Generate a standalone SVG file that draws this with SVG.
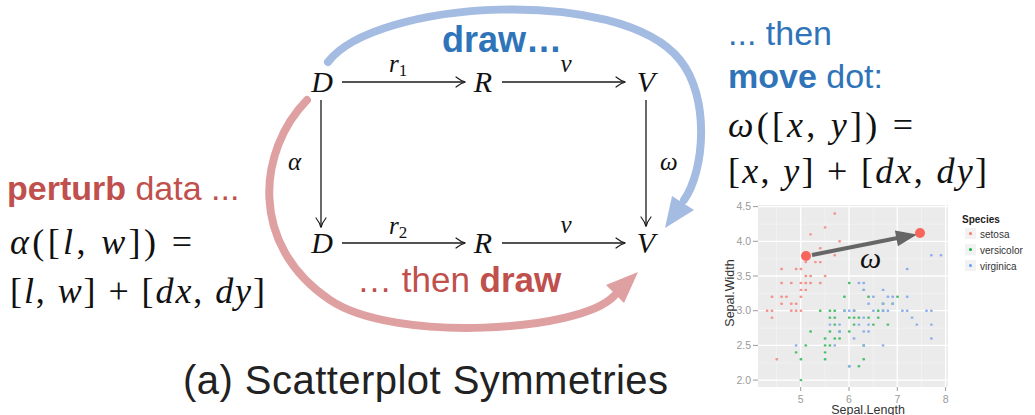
<svg xmlns="http://www.w3.org/2000/svg" width="1035" height="415" viewBox="0 0 1035 415">
<style>
.math{font-family:"Liberation Serif","Times New Roman",serif;font-style:italic;fill:#111}
.up{font-style:normal}
.sans{font-family:"Liberation Sans",Arial,sans-serif}
.red{fill:#c0504d}
.blue{fill:#2f74b9}
.b{font-weight:bold}
.node{font-size:30px}
.lab{font-size:25px}
.eq{font-size:36px}
.ann{font-size:34px}
.conn{stroke:#1a1a1a;stroke-width:1.3;fill:none}
.head{stroke:#1a1a1a;stroke-width:1.2;fill:none;stroke-linecap:round}
.tick{font-family:"Liberation Sans",Arial,sans-serif;font-size:10.5px;fill:#9a9a9a}
.pt{fill:none;stroke-width:2.4;stroke-linecap:round;vector-effect:non-scaling-stroke}
</style>

<!-- big curved arrows -->
<g id="blue-arc">
<path d="M328,62 C375,0 620,-15 680,60 C710,97 705,170 684,200" fill="none" stroke="#a4bce2" stroke-width="8" stroke-linecap="round"/>
<polygon points="665,228 672,196 694,210" fill="#a4bce2"/>
</g>
<g id="red-arc">
<path d="M307,100 C258,150 248,245 330,300 C394,343 580,332 614,296" fill="none" stroke="#dfa0a1" stroke-width="8" stroke-linecap="round"/>
<polygon points="638,272 606,285 624,303" fill="#dfa0a1"/>
</g>

<!-- connectors -->
<g id="connectors">
<path class="conn" d="M342,82 H465"/>
<path class="head" d="M456,77 Q461,81 465.5,82 Q461,83 456,87"/>
<path class="conn" d="M502,82 H625"/>
<path class="head" d="M616,77 Q621,81 625.5,82 Q621,83 616,87"/>
<path class="conn" d="M342,243 H465"/>
<path class="head" d="M456,238 Q461,242 465.5,243 Q461,244 456,248"/>
<path class="conn" d="M502,243 H625"/>
<path class="head" d="M616,238 Q621,242 625.5,243 Q621,244 616,248"/>
<path class="conn" d="M321,100 V227"/>
<path class="head" d="M316,218 Q320,223 321,227.5 Q322,223 326,218"/>
<path class="conn" d="M646,100 V226"/>
<path class="head" d="M641,217 Q645,222 646,226.5 Q647,222 651,217"/>
<text class="math lab" x="389" y="72">r<tspan class="up" font-size="17" dy="4">1</tspan></text>
<text class="math lab" x="566" y="72" text-anchor="middle">v</text>
<text class="math lab" x="389" y="234">r<tspan class="up" font-size="17" dy="4">2</tspan></text>
<text class="math lab" x="566" y="233" text-anchor="middle">v</text>
<text class="math lab" x="288" y="170">α</text>
<text class="math lab" x="660" y="170">ω</text>
</g>

<!-- nodes -->
<g id="node-D1"><text class="math node" x="322" y="92" text-anchor="middle">D</text></g>
<g id="node-R1"><text class="math node" x="483" y="92" text-anchor="middle">R</text></g>
<g id="node-V1"><text class="math node" x="646" y="92" text-anchor="middle">V</text></g>
<g id="node-D2"><text class="math node" x="322" y="253" text-anchor="middle">D</text></g>
<g id="node-R2"><text class="math node" x="483" y="253" text-anchor="middle">R</text></g>
<g id="node-V2"><text class="math node" x="646" y="253" text-anchor="middle">V</text></g>

<!-- annotations -->
<g id="label-draw-top"><text class="sans b blue" x="442" y="52" font-size="36">draw…</text></g>
<g id="label-then-draw"><text class="sans red" x="357" y="292" font-size="35">… then <tspan class="b">draw</tspan></text></g>

<g id="label-perturb">
<text class="sans red ann" x="7" y="200"><tspan class="b">perturb</tspan> data ...</text>
<text class="math eq" x="10" y="254" textLength="182" lengthAdjust="spacing">α<tspan class="up">([</tspan>l<tspan class="up">, </tspan>w<tspan class="up">]) =</tspan></text>
<text class="math eq up" x="10" y="303" textLength="255" lengthAdjust="spacing">[<tspan font-style="italic">l</tspan>, <tspan font-style="italic">w</tspan>] + [<tspan font-style="italic">dx</tspan>, <tspan font-style="italic">dy</tspan>]</text>
</g>

<g id="label-move">
<text class="sans blue ann" x="728" y="45">... then</text>
<text class="sans blue ann" x="728" y="88"><tspan class="b">move</tspan> dot:</text>
<text class="math eq" x="728" y="137" textLength="185" lengthAdjust="spacing">ω<tspan class="up">([</tspan>x<tspan class="up">, </tspan>y<tspan class="up">]) =</tspan></text>
<text class="math eq up" x="728" y="183" textLength="259" lengthAdjust="spacing">[<tspan font-style="italic">x</tspan>, <tspan font-style="italic">y</tspan>] + [<tspan font-style="italic">dx</tspan>, <tspan font-style="italic">dy</tspan>]</text>
</g>

<g id="caption"><text class="sans" x="183" y="394" font-size="40" fill="#222" textLength="485" lengthAdjust="spacing">(a) Scatterplot Symmetries</text></g>

<!-- scatterplot -->
<g id="scatterplot">
<rect x="758" y="205" width="190" height="182" fill="#ebebeb"/>
<g stroke="#f4f4f4" stroke-width="0.7">
<path d="M776.6,205V387M824.9,205V387M873.2,205V387M921.5,205V387"/>
<path d="M758,224.2H948M758,258.9H948M758,293.5H948M758,328.2H948M758,362.9H948"/>
</g>
<g stroke="#ffffff" stroke-width="1.3">
<path d="M800.7,205V387M849,205V387M897.3,205V387M945.6,205V387"/>
<path d="M758,206.6H948M758,241.3H948M758,276H948M758,310.7H948M758,345.4H948M758,380.1H948"/>
</g>
<g stroke="#9a9a9a" stroke-width="1">
<path d="M753,206.6H758M753,241.3H758M753,276H758M753,310.7H758M753,345.4H758M753,380.1H758"/>
<path d="M800.7,387V391M849,387V391M897.3,387V391M945.6,387V391"/>
</g>
<g class="tick" text-anchor="end">
<text x="751" y="210.3">4.5</text>
<text x="751" y="245">4.0</text>
<text x="751" y="279.7">3.5</text>
<text x="751" y="314.4">3.0</text>
<text x="751" y="349.1">2.5</text>
<text x="751" y="383.8">2.0</text>
</g>
<g class="tick" text-anchor="middle" font-size="11">
<text x="800.7" y="403">5</text>
<text x="849" y="403">6</text>
<text x="897.3" y="403">7</text>
<text x="945.6" y="403">8</text>
</g>
<text x="868" y="414" text-anchor="middle" font-family="Liberation Sans, Arial, sans-serif" font-size="12.5" fill="#333">Sepal.Length</text>
<text transform="translate(734,293) rotate(-90)" text-anchor="middle" font-family="Liberation Sans, Arial, sans-serif" font-size="12.5" fill="#333">Sepal.Width</text>

<g transform="matrix(48.3 0 0 -69.4 559.2 518.9)">
<path class="pt" stroke="#f3938b" d="M5.1 3.5h.01M4.9 3h.01M4.7 3.2h.01M4.6 3.1h.01M5 3.6h.01M5.4 3.9h.01M4.6 3.4h.01M5 3.4h.01M4.4 2.9h.01M4.9 3.1h.01M5.4 3.7h.01M4.8 3.4h.01M4.8 3h.01M4.3 3h.01M5.8 4h.01M5.7 4.4h.01M5.7 3.8h.01M5.1 3.8h.01M5.4 3.4h.01M5.1 3.7h.01M4.6 3.6h.01M5.1 3.3h.01M5 3h.01M5.2 3.5h.01M5.2 3.4h.01M4.8 3.1h.01M5.2 4.1h.01M5.5 4.2h.01M5 3.2h.01M5.5 3.5h.01M4.9 3.6h.01M4.4 3h.01M5.1 3.4h.01M4.5 2.3h.01M4.4 3.2h.01M4.6 3.2h.01M5.3 3.7h.01M5 3.3h.01"/>
<path class="pt" stroke="#4cbf6e" d="M7 3.2h.01M6.4 3.2h.01M6.9 3.1h.01M5.5 2.3h.01M6.5 2.8h.01M5.7 2.8h.01M6.3 3.3h.01M4.9 2.4h.01M6.6 2.9h.01M5.2 2.7h.01M5 2h.01M5.9 3h.01M6 2.2h.01M6.1 2.9h.01M5.6 2.9h.01M6.7 3.1h.01M5.6 3h.01M5.8 2.7h.01M6.2 2.2h.01M5.6 2.5h.01M5.9 3.2h.01M6.1 2.8h.01M6.3 2.5h.01M6.4 2.9h.01M6.6 3h.01M6.8 2.8h.01M6.7 3h.01M6 2.9h.01M5.7 2.6h.01M5.5 2.4h.01M6 2.7h.01M5.4 3h.01M6 3.4h.01M6.3 2.3h.01M5.5 2.5h.01M5.5 2.6h.01M6.1 3h.01M5.8 2.6h.01M5 2.3h.01M5.6 2.7h.01M5.7 3h.01M5.7 2.9h.01M6.2 2.9h.01M5.1 2.5h.01"/>
<path class="pt" stroke="#8eaef0" d="M6.3 3.3h.01M5.8 2.7h.01M7.1 3h.01M6.3 2.9h.01M6.5 3h.01M7.6 3h.01M4.9 2.5h.01M7.3 2.9h.01M6.7 2.5h.01M7.2 3.6h.01M6.5 3.2h.01M6.4 2.7h.01M6.8 3h.01M5.7 2.5h.01M5.8 2.8h.01M7.7 3.8h.01M7.7 2.6h.01M6 2.2h.01M6.9 3.2h.01M5.6 2.8h.01M7.7 2.8h.01M6.3 2.7h.01M6.7 3.3h.01M7.2 3.2h.01M6.2 2.8h.01M6.1 3h.01M6.4 2.8h.01M7.2 3h.01M7.4 2.8h.01M7.9 3.8h.01M6.1 2.6h.01M7.7 3h.01M6.3 3.4h.01M6.4 3.1h.01M6 3h.01M6.9 3.1h.01M6.7 3.1h.01M6.8 3.2h.01M6.7 3h.01M6.3 2.5h.01M6.2 3.4h.01M5.9 3h.01"/>
</g>

<line x1="812" y1="255" x2="900" y2="237.5" stroke="#666" stroke-width="4"/>
<polygon points="917,234.5 897.9,246.2 894.9,230.6" fill="#666"/>
<circle cx="806" cy="256" r="5" fill="#f8655c"/>
<circle cx="920" cy="233" r="5" fill="#f8655c"/>
<text class="math" x="860" y="268" font-size="30">ω</text>

<g font-family="Liberation Sans, Arial, sans-serif" font-size="10" fill="#333">
<text x="962" y="223" font-weight="bold" fill="#222">Species</text>
<rect x="965" y="228" width="11" height="11" fill="#f2f2f2"/>
<rect x="965" y="244" width="11" height="11" fill="#f2f2f2"/>
<rect x="965" y="260" width="11" height="11" fill="#f2f2f2"/>
<circle cx="970.5" cy="233.5" r="1.5" fill="#f8766d"/>
<circle cx="970.5" cy="249.5" r="1.5" fill="#00ba38"/>
<circle cx="970.5" cy="265.5" r="1.5" fill="#619cff"/>
<text x="980" y="238">setosa</text>
<text x="980" y="254">versicolor</text>
<text x="980" y="270">virginica</text>
</g>
</g>
</svg>
